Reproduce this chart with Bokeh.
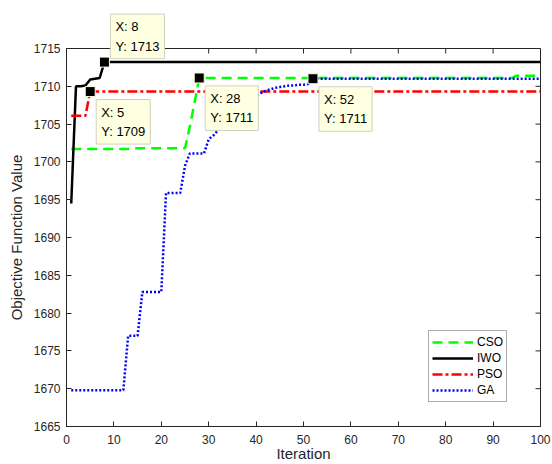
from bokeh.plotting import figure
from bokeh.models import Legend, LegendItem, Label, FixedTicker
from bokeh.embed import file_html
from bokeh.resources import INLINE

# ---- data ----
iterations = list(range(1, 101))
cso = [1701.7] * 13 + [1701.8] * 12 + [1704.6, 1707.8] + [1711.1] * 67 + [1711.4] * 6
iwo = [1694.5, 1710.0, 1710.0, 1710.1, 1710.9, 1711.0, 1711.1] + [1713.2] * 93
pso = [1706.1] * 4 + [1709.3] * 96
ga = ([1669.8] * 12 + [1677.0] * 3 + [1682.8] * 5 + [1695.9] * 4 + [1699.5] + [1701.1] * 4
      + [1703.0, 1703.5, 1704.2, 1704.8, 1705.5, 1706.0, 1706.6, 1707.2, 1707.8, 1708.3,
         1708.7, 1709.1, 1709.4, 1709.6, 1709.8, 1709.9, 1710.0, 1710.1, 1710.1, 1710.2,
         1710.2, 1710.3]
      + [1711.0] * 49)

series_names = ["CSO", "IWO", "PSO", "GA"]

tip_x = [8, 5, 28, 52]
tip_y = [1713.2, 1709.3, 1711.1, 1711.0]
tip_text = ["X: 8\nY: 1713", "X: 5\nY: 1709", "X: 28\nY: 1711", "X: 52\nY: 1711"]

x_ticks = [0, 10, 20, 30, 40, 50, 60, 70, 80, 90, 100]
y_ticks = [1665, 1670, 1675, 1680, 1685, 1690, 1695, 1700, 1705, 1710, 1715]
x_min, x_max = 0, 100
y_min, y_max = 1665, 1715

FONT = "Liberation Sans"
AX = "#262626"

p = figure(width=552, height=464, x_range=(x_min, x_max), y_range=(y_min, y_max),
           output_backend="svg", toolbar_location=None,
           min_border_left=66, min_border_right=12, min_border_top=48, min_border_bottom=38)
p.outline_line_color = AX
p.outline_line_width = 1
p.xgrid.visible = False
p.ygrid.visible = False
p.background_fill_color = "white"
p.border_fill_color = "white"

def style_axis(ax, ticks):
    ax.ticker = FixedTicker(ticks=ticks)
    ax.major_tick_in = 5
    ax.major_tick_out = 0
    ax.minor_tick_line_color = None
    ax.axis_line_color = AX
    ax.major_tick_line_color = AX
    ax.axis_line_width = 1
    ax.major_label_text_font = FONT
    ax.major_label_text_color = AX
    ax.major_label_text_font_size = "12px"
    ax.axis_label_text_font = FONT
    ax.axis_label_text_color = AX
    ax.axis_label_text_font_style = "normal"
    ax.axis_label_text_font_size = "15px"

xa = p.xaxis[0]
style_axis(xa, x_ticks)
xa.axis_label = "Iteration"
xa.major_label_standoff = 8
xa.axis_label_standoff = -2

ya = p.yaxis[0]
style_axis(ya, y_ticks)
ya.axis_label = "Objective Function Value"
ya.major_label_standoff = 6
ya.axis_label_standoff = 6

# inward ticks on the top and right edges of the box (5 px long)
tick_dx = 5 * (x_max - x_min) / 474.0
tick_dy = 5 * (y_max - y_min) / 378.0
p.segment(x0=x_ticks, y0=[y_max] * len(x_ticks), x1=x_ticks, y1=[y_max - tick_dy] * len(x_ticks),
          line_color=AX, line_width=1)
p.segment(x0=[x_max] * len(y_ticks), y0=y_ticks, x1=[x_max - tick_dx] * len(y_ticks), y1=y_ticks,
          line_color=AX, line_width=1)

r_cso = p.line(iterations, cso, line_color="#00FF00", line_width=2.5, line_dash="10 6")
r_iwo = p.line(iterations, iwo, line_color="#000000", line_width=2.5)
r_pso = p.line(iterations, pso, line_color="#FF0000", line_width=2.5, line_dash="10 3 3 3")
r_ga = p.line(iterations, ga, line_color="#0000FF", line_width=2.5, line_dash="2 2")

# data tips
p.scatter(tip_x, tip_y, marker="square", size=10, fill_color="black",
          line_color="#FFFFE1", line_width=1)
for i in range(len(tip_x)):
    yo = 48 if i == 0 else -8
    lab = Label(x=tip_x[i], y=tip_y[i], text=tip_text[i], x_offset=6, y_offset=yo,
                anchor="top_left", text_font=FONT, text_font_size="13px",
                text_line_height=1.3, text_color="#000000",
                background_fill_color="#FFFFE1", border_line_color="#D0D0C0",
                border_line_width=1, padding=5)
    # the first tip sticks out above the axes box: put it in a side panel so it is not clipped
    p.add_layout(lab, "above" if i == 0 else "center")

legend = Legend(items=[LegendItem(label=series_names[0], renderers=[r_cso]),
                       LegendItem(label=series_names[1], renderers=[r_iwo]),
                       LegendItem(label=series_names[2], renderers=[r_pso]),
                       LegendItem(label=series_names[3], renderers=[r_ga])],
                location=(362, 24), glyph_width=41, glyph_height=16, label_height=16,
                spacing=0, padding=3, margin=0, label_standoff=4,
                label_text_font=FONT, label_text_font_size="12px", label_text_color="#000000",
                border_line_color="#595959", border_line_width=1,
                background_fill_color="white", background_fill_alpha=1.0)
p.add_layout(legend, "center")

open("out.html", "w").write(file_html(p, INLINE))
